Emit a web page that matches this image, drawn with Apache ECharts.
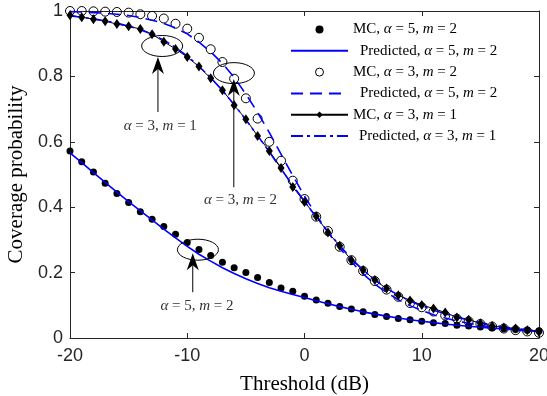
<!DOCTYPE html>
<html><head><meta charset="utf-8">
<script src="https://cdn.jsdelivr.net/npm/echarts@6/dist/echarts.min.js"></script>
<style>html,body{margin:0;padding:0;background:#fff}#c{width:547px;height:396px}</style>
</head><body><div id="c"></div><script>
// ---- data ----
const thresholdDb = [-20,-19,-18,-17,-16,-15,-14,-13,-12,-11,-10,-9,-8,-7,-6,-5,-4,-3,-2,-1,0,1,2,3,4,5,6,7,8,9,10,11,12,13,14,15,16,17,18,19,20];
const mcA5M2 = [0.572,0.539,0.508,0.473,0.442,0.414,0.386,0.363,0.341,0.317,
  0.292,0.271,0.252,0.232,0.215,0.200,0.185,0.170,0.153,0.143,
  0.128,0.116,0.106,0.096,0.089,0.080,0.072,0.066,0.060,0.056,
  0.051,0.047,0.044,0.039,0.037,0.034,0.031,0.028,0.026,0.024,0.022];
const predA5M2 = [0.566,0.536,0.506,0.476,0.446,0.417,0.389,0.361,0.333,0.306,
  0.280,0.256,0.235,0.215,0.197,0.181,0.167,0.154,0.143,0.133,
  0.124,0.114,0.105,0.096,0.088,0.080,0.073,0.067,0.061,0.056,
  0.051,0.047,0.043,0.039,0.036,0.033,0.030,0.028,0.025,0.023,0.021];
const mcA3M2 = [1.000,1.000,0.999,0.998,0.997,0.995,0.990,0.985,0.977,0.961,
  0.946,0.918,0.883,0.844,0.793,0.733,0.671,0.600,0.542,0.481,
  0.425,0.371,0.327,0.279,0.238,0.205,0.174,0.148,0.126,0.107,
  0.094,0.081,0.069,0.059,0.051,0.043,0.035,0.029,0.024,0.020,0.016];
const predA3M2 = [0.998,0.997,0.995,0.993,0.990,0.986,0.980,0.972,0.962,0.948,
  0.930,0.905,0.875,0.840,0.797,0.746,0.690,0.628,0.562,0.497,
  0.434,0.376,0.323,0.275,0.233,0.196,0.165,0.139,0.117,0.099,
  0.084,0.071,0.061,0.052,0.045,0.039,0.033,0.029,0.025,0.021,0.018];
const mcA3M1 = [0.987,0.981,0.975,0.969,0.960,0.953,0.945,0.929,0.906,0.884,
  0.859,0.830,0.794,0.758,0.712,0.669,0.618,0.572,0.520,0.462,
  0.416,0.372,0.323,0.282,0.238,0.208,0.177,0.151,0.131,0.115,
  0.101,0.090,0.078,0.063,0.056,0.045,0.037,0.032,0.029,0.024,0.018];
const predA3M1 = [0.985,0.981,0.976,0.970,0.963,0.954,0.943,0.929,0.911,0.889,
  0.862,0.831,0.796,0.757,0.714,0.667,0.619,0.569,0.517,0.467,
  0.418,0.370,0.325,0.283,0.243,0.208,0.178,0.152,0.131,0.113,
  0.098,0.085,0.074,0.064,0.055,0.047,0.040,0.034,0.029,0.025,0.021];
const legendTexts = {
  s1: 'MC, {i|α} = 5, {i|m} = 2',
  s2: 'Predicted, {i|α} = 5, {i|m} = 2',
  s3: 'MC, {i|α} = 3, {i|m} = 2',
  s4: 'Predicted, {i|α} = 5, {i|m} = 2',
  s5: 'MC, {i|α} = 3, {i|m} = 1',
  s6: 'Predicted, {i|α} = 3, {i|m} = 1'
};
// annotations in data coordinates
const annotations = [
  {label: '{i|α} = 3, {i|m} = 1', ell: [-12.14, 0.893], arrowX: -12.5, tailY: 0.691, headY: 0.859, text: [-12.3, 0.648]},
  {label: '{i|α} = 3, {i|m} = 2', ell: [-6.02, 0.810], arrowX: -6.03, tailY: 0.461, headY: 0.792, text: [-5.46, 0.421]},
  {label: '{i|α} = 5, {i|m} = 2', ell: [-9.09, 0.270], arrowX: -9.53, tailY: 0.140, headY: 0.259, text: [-9.17, 0.097]}
];

const pairs = arr => thresholdDb.map((x, i) => [x, arr[i]]);
const AX = '#262626';
const SERIF = '"Liberation Serif", "Times New Roman", serif';
const SANS = '"Liberation Sans", Arial, sans-serif';
const BLUE = '#0000ff';

const chart = echarts.init(document.getElementById('c'), null, {renderer: 'canvas'});
const tickCommon = {show: true, inside: true, length: 5, lineStyle: {color: AX, width: 1}};
const option = {
  animation: false,
  backgroundColor: '#fff',
  grid: {left: 70, right: 8, top: 11, bottom: 58, containLabel: false, outerBoundsMode: 'none'},
  xAxis: [{
    type: 'value', min: -20, max: 20, interval: 10,
    axisLine: {show: true, onZero: false, lineStyle: {color: AX, width: 1}},
    axisTick: tickCommon, splitLine: {show: false},
    axisLabel: {color: AX, fontFamily: SANS, fontSize: 18, margin: 9},
    name: 'Threshold (dB)', nameLocation: 'middle', nameGap: 36,
    nameTextStyle: {fontFamily: SERIF, fontSize: 21, color: '#000'}
  }, {
    type: 'value', min: -20, max: 20, interval: 10, position: 'top',
    axisLine: {show: true, onZero: false, lineStyle: {color: AX, width: 1}},
    axisTick: tickCommon, axisLabel: {show: false}, splitLine: {show: false}
  }],
  yAxis: [{
    type: 'value', min: 0, max: 1, interval: 0.2,
    axisLine: {show: true, onZero: false, lineStyle: {color: AX, width: 1}},
    axisTick: tickCommon, splitLine: {show: false},
    axisLabel: {color: AX, fontFamily: SANS, fontSize: 18, margin: 7},
    name: 'Coverage probability', nameLocation: 'middle', nameGap: 41,
    nameTextStyle: {fontFamily: SERIF, fontSize: 21, color: '#000'}
  }, {
    type: 'value', min: 0, max: 1, interval: 0.2, position: 'right',
    axisLine: {show: true, onZero: false, lineStyle: {color: AX, width: 1}},
    axisTick: tickCommon, axisLabel: {show: false}, splitLine: {show: false}
  }],
  legend: {
    orient: 'vertical', left: 290, top: 22, itemWidth: 57, itemHeight: 8, itemGap: 6.3,
    selectedMode: false, padding: 0,
    textStyle: {fontFamily: SERIF, fontSize: 15, color: '#000',
      rich: {i: {fontFamily: SERIF, fontStyle: 'italic', fontSize: 15}}},
    formatter: name => legendTexts[name],
    data: [
      {name: 's1'},
      {name: 's2', itemStyle: {opacity: 0}, textStyle: {padding: [0, 0, 0, 7]}},
      {name: 's3', itemStyle: {borderWidth: 1}},
      {name: 's4', itemStyle: {opacity: 0}, textStyle: {padding: [0, 0, 0, 7]}},
      {name: 's5'},
      {name: 's6', itemStyle: {opacity: 0}, textStyle: {padding: [0, 0, 0, 6]}}
    ]
  },
  series: [
    {name: 's1', type: 'scatter', data: pairs(mcA5M2), symbol: 'circle', symbolSize: 7,
      itemStyle: {color: '#000', opacity: 1}},
    {name: 's2', type: 'line', data: pairs(predA5M2), symbol: 'none', smooth: false,
      lineStyle: {color: BLUE, width: 1.6}, itemStyle: {color: BLUE}},
    {name: 's3', type: 'scatter', data: pairs(mcA3M2), symbol: 'circle', symbolSize: 9,
      itemStyle: {color: 'rgba(255,255,255,0)', borderColor: '#000', borderWidth: 1, opacity: 1}},
    {name: 's4', type: 'line', data: pairs(predA3M2), symbol: 'none',
      lineStyle: {color: BLUE, width: 1.6, type: [12, 7]}, itemStyle: {color: BLUE}},
    {name: 's5', type: 'line', data: pairs(mcA3M1), symbol: 'diamond', symbolSize: [7, 10], showSymbol: true,
      lineStyle: {color: '#000', width: 1}, itemStyle: {color: '#000'}},
    {name: 's6', type: 'line', data: pairs(predA3M1), symbol: 'none',
      lineStyle: {color: BLUE, width: 1.6, type: [12, 4, 3, 4]}, itemStyle: {color: BLUE}}
  ]
};
chart.setOption(option);

// annotations (ellipses, arrows, labels) positioned via the axes
const g = [];
annotations.forEach(a => {
  const c = chart.convertToPixel({gridIndex: 0}, a.ell);
  g.push({type: 'ellipse', shape: {cx: c[0], cy: c[1], rx: 20.5, ry: 10.5},
    style: {fill: 'none', stroke: '#000', lineWidth: 1}, z: 100});
  const tail = chart.convertToPixel({gridIndex: 0}, [a.arrowX, a.tailY]);
  const head = chart.convertToPixel({gridIndex: 0}, [a.arrowX, a.headY]);
  g.push({type: 'line', shape: {x1: tail[0], y1: tail[1], x2: head[0], y2: head[1] + 12},
    style: {stroke: '#000', lineWidth: 1}, z: 100});
  g.push({type: 'polygon', shape: {points: [[head[0], head[1]], [head[0] - 6, head[1] + 17], [head[0], head[1] + 12], [head[0] + 6, head[1] + 17]]},
    style: {fill: '#000'}, z: 100});
  const t = chart.convertToPixel({gridIndex: 0}, a.text);
  g.push({type: 'text', x: t[0], y: t[1], z: 100,
    style: {text: a.label, fill: '#333', font: '15px ' + SERIF, align: 'center', verticalAlign: 'middle',
      rich: {i: {fontStyle: 'italic', fontFamily: SERIF, fontSize: 15, fill: '#333'}}}});
});
chart.setOption({graphic: g});
</script></body></html>
